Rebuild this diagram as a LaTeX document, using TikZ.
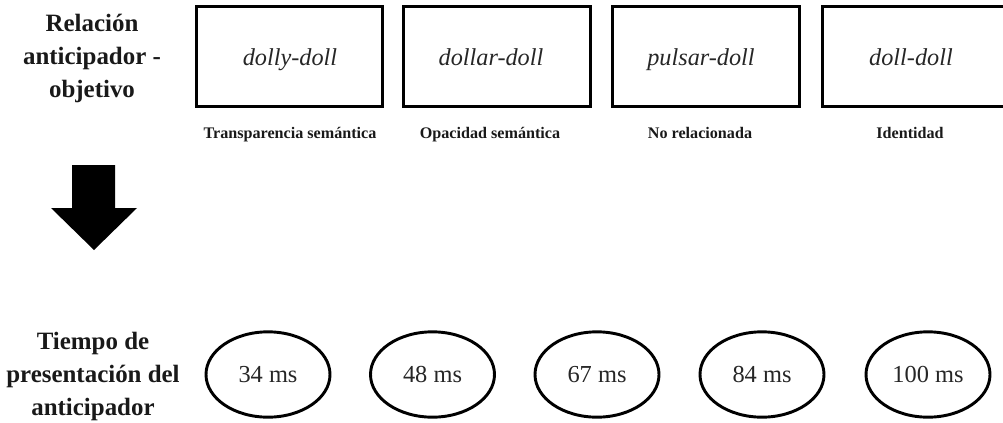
\documentclass[tikz,border=0pt]{standalone}
\usepackage{fontspec}
\setmainfont{Liberation Serif}
\usetikzlibrary{shapes.geometric}
\tikzset{
  heading/.style={font=\fontsize{18.7}{24.4}\selectfont\bfseries, align=center, text=black!90, anchor=base},
  pairbox/.style={draw, line width=2.25pt, minimum width=140pt, minimum height=75pt},
  pairtext/.style={font=\fontsize{18.2}{20}\selectfont\itshape, text=black!85, anchor=base},
  caption/.style={font=\fontsize{12.1}{14}\selectfont\bfseries, text=black!90, anchor=base},
  timeoval/.style={draw, ellipse, line width=2.2pt, minimum width=93pt, minimum height=64pt},
  timetext/.style={font=\fontsize{18.3}{20}\selectfont, text=black!85, anchor=base}
}
\begin{document}
\begin{tikzpicture}[x=0.75pt,y=-0.75pt]
\useasboundingbox (0,0) rectangle (1003,422);
% row labels (base anchor sits on the last line)
\node[heading] (rel) at (92,97) {Relación\\anticipador -\\objetivo};
\node[heading] (tiempo) at (93,415) {Tiempo de\\presentación del\\anticipador};
% prime-target pairs
\node[pairbox] (b1) at (289.5,56) {};
\node[pairbox] (b2) at (497,56) {};
\node[pairbox] (b3) at (706,56) {};
\node[pairbox] (b4) at (915.5,56) {};
\node[pairtext] (p1) at (290,65) {dolly-doll};
\node[pairtext] (p2) at (491,65) {dollar-doll};
\node[pairtext] (p3) at (701,65) {pulsar-doll};
\node[pairtext] (p4) at (911,65) {doll-doll};
% conditions
\node[caption] (c1) at (290,138) {Transparencia semántica};
\node[caption] (c2) at (490,138) {Opacidad semántica};
\node[caption] (c3) at (700,138) {No relacionada};
\node[caption] (c4) at (910,138) {Identidad};
% block arrow
\fill[black] (72,165) -- (115,165) -- (115,208) -- (137,208) -- (94,250)
  -- (51,208) -- (72,208) -- cycle;
% presentation times
\node[timeoval] (t1) at (268,374.5) {};
\node[timeoval] (t2) at (432.5,374.5) {};
\node[timeoval] (t3) at (597,374.5) {};
\node[timeoval] (t4) at (762,374.5) {};
\node[timeoval] (t5) at (928,374.5) {};
\node[timetext] (m1) at (268,382) {34 ms};
\node[timetext] (m2) at (432.5,382) {48 ms};
\node[timetext] (m3) at (597,382) {67 ms};
\node[timetext] (m4) at (762,382) {84 ms};
\node[timetext] (m5) at (928,382) {100 ms};
\end{tikzpicture}
\end{document}
